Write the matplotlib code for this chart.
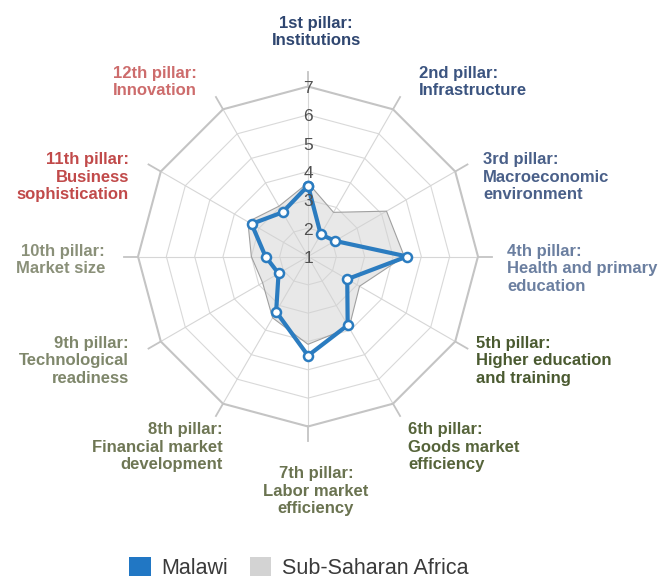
import numpy as np
import matplotlib.pyplot as plt
from matplotlib.patches import Patch

plt.rcParams['font.family'] = ['Liberation Sans', 'DejaVu Sans']

pillars = ["1st pillar:\nInstitutions",
           "2nd pillar:\nInfrastructure",
           "3rd pillar:\nMacroeconomic\nenvironment",
           "4th pillar:\nHealth and primary\neducation",
           "5th pillar:\nHigher education\nand training",
           "6th pillar:\nGoods market\nefficiency",
           "7th pillar:\nLabor market\nefficiency",
           "8th pillar:\nFinancial market\ndevelopment",
           "9th pillar:\nTechnological\nreadiness",
           "10th pillar:\nMarket size",
           "11th pillar:\nBusiness\nsophistication",
           "12th pillar:\nInnovation"]
malawi = [3.5, 1.9, 2.1, 4.5, 2.6, 3.8, 4.5, 3.25, 2.2, 2.5, 3.3, 2.8]
ssa = [3.6, 2.8, 4.2, 4.4, 3.1, 3.9, 4.1, 3.5, 2.85, 3.0, 3.45, 3.05]
ticks = [1, 2, 3, 4, 5, 6, 7]

label_colors = ['#2f4670', '#3b5480', '#4a6089', '#6b7fa0', '#4a5a30', '#56643a',
                '#6a7350', '#6e7654', '#7f876b', '#8a9079', '#c14a4a', '#cd6c6c']
# label anchor in pixels (x, y from top) and alignment
label_pos = [(316, 32, 'center'), (419, 82, 'left'), (483, 177, 'left'),
             (507, 269, 'left'), (476, 361, 'left'), (408, 447, 'left'),
             (316, 491, 'center'), (223, 447, 'right'), (129, 361, 'right'),
             (105, 260, 'right'), (129, 177, 'right'), (197, 82, 'right')]

W, H = 659, 579
cx, cy, unit = 308, 256.5, 28.33

fig = plt.figure(figsize=(W / 100, H / 100), dpi=100)
ax = fig.add_axes([0, 0, 1, 1])
ax.set_xlim(-cx / unit, (W - cx) / unit)
ax.set_ylim(-(H - cy) / unit, cy / unit)
ax.axis('off')

n = len(pillars)
theta = 2 * np.pi * np.arange(n) / n
tc = np.append(theta, theta[0])

def xy(r, t):
    return r * np.sin(t), r * np.cos(t)

# grid rings
for v in ticks[1:]:
    x, y = xy(np.full(n + 1, v - 1.0), tc)
    if v == ticks[-1]:
        ax.plot(x, y, color='#c4c4c4', lw=1.5, zorder=1)
    else:
        ax.plot(x, y, color='#d9d9d9', lw=0.8, zorder=1)

# spokes + tick marks
rmax = ticks[-1] - 1
for t in theta:
    x, y = xy(np.array([0, rmax]), t)
    ax.plot(x, y, color='#d6d6d6', lw=0.8, zorder=1)
    x, y = xy(np.array([rmax, rmax + 0.5]), t)
    ax.plot(x, y, color='#c4c4c4', lw=1.3, zorder=1)

# Sub-Saharan Africa
x, y = xy(np.append(ssa, ssa[0]) - 1, tc)
ax.fill(x, y, color='#d3d3d3', alpha=0.5, lw=0, zorder=2)
ax.plot(x, y, color='#a0a0a0', lw=0.8, zorder=2)

# Malawi
x, y = xy(np.append(malawi, malawi[0]) - 1, tc)
ax.plot(x, y, color='#2b7cc0', lw=3, zorder=3,
        marker='o', markersize=6.5, markerfacecolor='white',
        markeredgecolor='#2b7cc0', markeredgewidth=1.8)

# radial tick labels
for v in ticks:
    ax.text(0, v - 1 - 0.07, str(v), ha='center', va='center',
            fontsize=12.5, color='#505050', zorder=4)

# pillar labels
for lab, col, (px, py, ha) in zip(pillars, label_colors, label_pos):
    ax.text((px - cx) / unit, (cy - py) / unit, lab, ha=ha, va='center',
            multialignment=ha, fontsize=12, fontweight='bold', color=col,
            linespacing=1.2)

handles = [Patch(facecolor='#2177c4', edgecolor='none', label='Malawi'),
           Patch(facecolor='#d3d3d3', edgecolor='none', label='Sub-Saharan Africa')]
fig.legend(handles=handles, loc='center', bbox_to_anchor=(299 / W, 1 - 568 / H),
           ncol=2, frameon=False, fontsize=15.5, labelcolor='#3a3a3a',
           handlelength=1.0, handleheight=1.0, handletextpad=0.5,
           columnspacing=1.0, borderpad=0)

fig.savefig('out.png', dpi=100)
